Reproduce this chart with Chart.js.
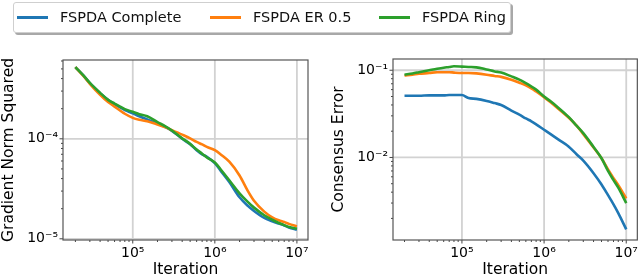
<!DOCTYPE html>
<html>
<head>
<meta charset="utf-8">
<script src="https://cdn.jsdelivr.net/npm/chart.js@4.4.0/dist/chart.umd.min.js"></script>
<style>
  body { margin: 0; width: 640px; height: 279px; background: #fff; position: relative; overflow: hidden; font-family: "DejaVu Sans", sans-serif; }
  canvas { position: absolute; top: 0; }
  #leftChart { left: 0; }
  #rightChart { left: 320px; }
  #legend { position: absolute; left: 13px; top: 2px; width: 498px; height: 31px; box-sizing: border-box;
            border: 1px solid #cfcfcf; border-radius: 3px; background: #fff; box-shadow: 2px 2px 0 #a8a8a8; z-index: 2; }
  .item { position: absolute; top: 0; height: 29px; }
  .swatch { position: absolute; top: 12.5px; width: 31px; height: 3px; }
  .label { position: absolute; left: 43px; top: 4px; font-size: 14.5px; line-height: 20px; color: #111; white-space: nowrap; }
</style>
</head>
<body>
<div id="legend"></div>
<canvas id="leftChart" width="320" height="279"></canvas>
<canvas id="rightChart" width="320" height="279"></canvas>
<script>
// Datos
const seriesNames = ["FSPDA Complete", "FSPDA ER 0.5", "FSPDA Ring"];
const seriesColors = ["#1f77b4", "#ff7f0e", "#2ca02c"];

const iterations = [2e4, 2.5e4, 3e4, 4e4, 5e4, 6e4, 7e4, 8e4, 1e5, 1.2e5, 1.5e5, 2e5, 2.5e5, 3e5, 4e5, 5e5,
                    6e5, 7e5, 8e5, 1e6, 1.2e6, 1.5e6, 2e6, 2.5e6, 3e6, 4e6, 5e6, 6e6, 7e6, 8e6, 1e7];

// Gradient Norm Squared
const gradComplete = [5.2e-4, 4.3e-4, 3.6e-4, 2.85e-4, 2.45e-4, 2.22e-4, 2.06e-4, 1.94e-4, 1.8e-4, 1.68e-4, 1.56e-4,
                      1.42e-4, 1.31e-4, 1.2e-4, 1.0e-4, 8.8e-5, 7.7e-5, 7.0e-5, 6.6e-5, 5.7e-5, 4.7e-5, 3.7e-5,
                      2.6e-5, 2.15e-5, 1.9e-5, 1.62e-5, 1.5e-5, 1.42e-5, 1.36e-5, 1.3e-5, 1.23e-5];
const gradER = [5.2e-4, 4.25e-4, 3.55e-4, 2.75e-4, 2.33e-4, 2.1e-4, 1.92e-4, 1.78e-4, 1.62e-4, 1.55e-4, 1.5e-4,
                1.39e-4, 1.3e-4, 1.22e-4, 1.1e-4, 1.01e-4, 9.3e-5, 8.8e-5, 8.3e-5, 7.7e-5, 6.9e-5, 5.9e-5,
                4.3e-5, 3.05e-5, 2.4e-5, 1.87e-5, 1.64e-5, 1.53e-5, 1.47e-5, 1.41e-5, 1.33e-5];
const gradRing = [5.2e-4, 4.3e-4, 3.62e-4, 2.88e-4, 2.45e-4, 2.25e-4, 2.1e-4, 1.98e-4, 1.86e-4, 1.76e-4, 1.68e-4,
                  1.47e-4, 1.33e-4, 1.21e-4, 1.01e-4, 8.9e-5, 7.8e-5, 7.1e-5, 6.5e-5, 5.8e-5, 4.85e-5, 3.85e-5,
                  2.85e-5, 2.35e-5, 2.05e-5, 1.72e-5, 1.55e-5, 1.44e-5, 1.37e-5, 1.31e-5, 1.26e-5];

// Consensus Error
const consComplete = [0.051, 0.051, 0.051, 0.0515, 0.0515, 0.0515, 0.052, 0.052, 0.052, 0.048, 0.047,
                      0.0445, 0.042, 0.040, 0.0345, 0.031, 0.028, 0.026, 0.024, 0.0208, 0.0185, 0.016,
                      0.0133, 0.0108, 0.0092, 0.0066, 0.0049, 0.0037, 0.0029, 0.0023, 0.0015];
const consER = [0.087, 0.089, 0.091, 0.093, 0.095, 0.095, 0.095, 0.094, 0.093, 0.093, 0.092,
                0.089, 0.086, 0.084, 0.078, 0.072, 0.067, 0.062, 0.057, 0.049, 0.043, 0.036,
                0.0285, 0.023, 0.0185, 0.013, 0.0098, 0.0073, 0.0058, 0.0048, 0.0034];
const consRing = [0.089, 0.092, 0.095, 0.1, 0.104, 0.107, 0.109, 0.111, 0.11, 0.109, 0.108,
                  0.102, 0.097, 0.094, 0.085, 0.078, 0.071, 0.065, 0.060, 0.050, 0.044, 0.037,
                  0.029, 0.023, 0.019, 0.0132, 0.0098, 0.007, 0.0055, 0.0045, 0.003];

const xTickValues = [1e5, 1e6, 1e7];
const xTickLabels = ["10⁵", "10⁶", "10⁷"];
const gradTickValues = [1e-5, 1e-4];
const gradTickLabels = ["10⁻⁵", "10⁻⁴"];
const consTickValues = [1e-2, 1e-1];
const consTickLabels = ["10⁻²", "10⁻¹"];

// Leyenda en HTML
const legend = document.getElementById("legend");
const itemLefts = [3, 196, 365];
seriesNames.forEach((name, i) => {
    const item = document.createElement("div");
    item.className = "item";
    item.style.left = itemLefts[i] + "px";
    item.innerHTML = '<div class="swatch" style="background:' + seriesColors[i] + '"></div><div class="label">' + name + '</div>';
    legend.appendChild(item);
});

// Marcas menores del eje logarítmico
function logTicks(minExp, maxExp) {
    const ticks = [];
    for (let e = minExp; e <= maxExp; e++) {
        for (let m = 1; m < 10; m++) ticks.push(m * Math.pow(10, e));
    }
    return ticks;
}

// Rejilla, marcas y marco dibujados con las escalas de Chart.js
function makeFrame(xMajor, yMajor, xAll, yAll) {
    return {
        id: "frame",
        beforeDatasetsDraw(chart) {
            const a = chart.chartArea;
            const ctx = chart.ctx;
            ctx.save();
            ctx.strokeStyle = "#d2d2d2";
            ctx.lineWidth = 1.8;
            xMajor.forEach(v => {
                const px = chart.scales.x.getPixelForValue(v);
                ctx.beginPath(); ctx.moveTo(px, a.top); ctx.lineTo(px, a.bottom); ctx.stroke();
            });
            yMajor.forEach(v => {
                const py = chart.scales.y.getPixelForValue(v);
                ctx.beginPath(); ctx.moveTo(a.left, py); ctx.lineTo(a.right, py); ctx.stroke();
            });
            ctx.restore();
        },
        afterDraw(chart) {
            const a = chart.chartArea;
            const ctx = chart.ctx;
            ctx.save();
            ctx.strokeStyle = "#444";
            ctx.lineWidth = 1;
            xAll.forEach(v => {
                const px = chart.scales.x.getPixelForValue(v);
                if (px < a.left || px > a.right) return;
                const len = xMajor.includes(v) ? 3.5 : 2;
                ctx.beginPath(); ctx.moveTo(px, a.bottom); ctx.lineTo(px, a.bottom + len); ctx.stroke();
            });
            yAll.forEach(v => {
                const py = chart.scales.y.getPixelForValue(v);
                if (py < a.top || py > a.bottom) return;
                const len = yMajor.includes(v) ? 3.5 : 2;
                ctx.beginPath(); ctx.moveTo(a.left, py); ctx.lineTo(a.left - len, py); ctx.stroke();
            });
            ctx.strokeStyle = "#555";
            ctx.lineWidth = 1.2;
            ctx.strokeRect(a.left, a.top, a.right - a.left, a.bottom - a.top);
            ctx.restore();
        }
    };
}

function makeChart(id, values, yTickValues, yTickLabels, opts) {
    const ctx = document.getElementById(id).getContext("2d");
    const datasets = values.map((vals, i) => ({
        label: seriesNames[i],
        data: iterations.map((x, j) => ({ x: x, y: vals[j] })),
        borderColor: seriesColors[i],
        backgroundColor: seriesColors[i],
        borderWidth: 2.6,
        pointRadius: 0,
        cubicInterpolationMode: "monotone",
        order: 3 - i
    }));
    const frame = makeFrame(xTickValues, yTickValues, logTicks(4, 6).concat([1e7]), logTicks(opts.yExpMin, opts.yExpMax));
    return new Chart(ctx, {
        type: "line",
        data: { datasets: datasets },
        plugins: [frame],
        options: {
            responsive: false,
            animation: false,
            events: [],
            layout: { padding: { top: opts.top, right: opts.right, bottom: 0, left: 0 } },
            plugins: { legend: { display: false }, tooltip: { enabled: false } },
            scales: {
                x: {
                    type: "logarithmic",
                    min: opts.xMin, max: opts.xMax,
                    border: { display: false },
                    afterBuildTicks: (s) => { s.ticks = xTickValues.map(v => ({ value: v })); },
                    afterFit: (s) => { s.height = 39; },
                    grid: { display: false, drawTicks: true, tickLength: 3 },
                    ticks: {
                        autoSkip: false, maxRotation: 0, padding: 2, color: "#000",
                        font: { family: "DejaVu Sans", size: 14 },
                        callback: (v, i) => xTickLabels[i]
                    },
                    title: { display: true, text: "Iteration", color: "#000", padding: 0,
                             font: { family: "DejaVu Sans", size: 15.5 } }
                },
                y: {
                    type: "logarithmic",
                    min: opts.yMin, max: opts.yMax,
                    border: { display: false },
                    afterBuildTicks: (s) => { s.ticks = yTickValues.map(v => ({ value: v })); },
                    afterFit: (s) => { s.width = opts.left; },
                    grid: { display: false, drawTicks: true, tickLength: 3 },
                    ticks: {
                        autoSkip: false, padding: 2, color: "#000",
                        font: { family: "DejaVu Sans", size: 14 },
                        callback: (v, i) => yTickLabels[i]
                    },
                    title: { display: true, text: opts.yTitle, color: "#000", padding: { top: opts.titlePad, bottom: 0 },
                             font: { family: "DejaVu Sans", size: 15.5 } }
                }
            }
        }
    });
}

makeChart("leftChart", [gradComplete, gradER, gradRing], gradTickValues, gradTickLabels, {
    top: 60, right: 12, left: 63,
    xMin: Math.pow(10, 4.15), xMax: Math.pow(10, 7.135),
    yMin: Math.pow(10, -5.012), yMax: Math.pow(10, -3.212), yExpMin: -6, yExpMax: -4,
    yTitle: "Gradient Norm Squared", titlePad: 0
});

makeChart("rightChart", [consComplete, consER, consRing], consTickValues, consTickLabels, {
    top: 59, right: 1, left: 73,
    xMin: Math.pow(10, 4.161), xMax: Math.pow(10, 7.135),
    yMin: Math.pow(10, -2.9465), yMax: Math.pow(10, -0.871), yExpMin: -3, yExpMax: -1,
    yTitle: "Consensus Error", titlePad: 10
});
</script>
</body>
</html>
